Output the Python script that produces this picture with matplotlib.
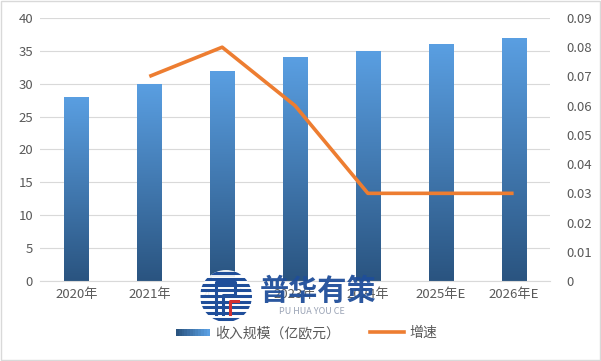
import numpy as np
import matplotlib
matplotlib.use("Agg")
import matplotlib.pyplot as plt
from matplotlib.patches import Rectangle, Circle
from matplotlib.lines import Line2D
from matplotlib.legend_handler import HandlerBase

plt.rcParams['font.family'] = ['Noto Sans CJK SC', 'DejaVu Sans']

years = ["2020年", "2021年", "2022年", "2023年", "2024年", "2025年E", "2026年E"]
revenue = [28, 30, 32, 34, 35, 36, 37]
growth = [None, 0.07, 0.08, 0.06, 0.03, 0.03, 0.03]

BAR_TOP = "#5a9fe2"
BAR_BOT = "#2a5480"
LINE_C = "#ed7d31"
TXT = "#595959"
GRID = "#d9d9d9"
LOGO = "#1f4e9a"

W, H = 601, 361
fig = plt.figure(figsize=(W / 100, H / 100), dpi=100)
ax = fig.add_axes([0.0666, 0.2216, 0.8486, 0.7286])
ax2 = ax.twinx()

x = np.arange(len(years))
bars = ax.bar(x, revenue, width=0.33, color="none", edgecolor="none", zorder=2)

# vertical gradient inside each bar
grad = np.linspace(0, 1, 256).reshape(-1, 1)
cmap = matplotlib.colors.LinearSegmentedColormap.from_list("g", [BAR_BOT, BAR_TOP])
for b in bars:
    x0, w, h = b.get_x(), b.get_width(), b.get_height()
    im = ax.imshow(grad, cmap=cmap, aspect="auto", origin="lower",
                   extent=[x0, x0 + w, 0, h], zorder=2)
    im.set_clip_path(b)

ax.set_xlim(-0.5, len(years) - 0.5)
ax.set_ylim(0, 40)
ax.set_yticks(range(0, 41, 5))
ax.yaxis.grid(True, color=GRID, lw=0.8, zorder=0)
ax.set_axisbelow(True)
ax.set_xticks(x)
ax.set_xticklabels(years)
ax.tick_params(axis="both", length=0, colors=TXT, labelsize=9.5, pad=5)
for s in ["top", "right", "left"]:
    ax.spines[s].set_visible(False)
ax.spines["bottom"].set_color(GRID)

gx = [i for i, g in enumerate(growth) if g is not None]
gy = [g for g in growth if g is not None]
ax2.plot(gx, gy, color=LINE_C, lw=2.6, solid_capstyle="butt", zorder=3)
ax2.set_ylim(0, 0.09)
ax2.set_yticks(np.arange(0, 0.091, 0.01))
ax2.set_yticklabels(["0"] + [f"{v:.2f}" for v in np.arange(0.01, 0.091, 0.01)])
ax2.tick_params(axis="y", length=0, colors=TXT, labelsize=9.5, pad=12)
for s in ["top", "right", "left", "bottom"]:
    ax2.spines[s].set_visible(False)


class GradHandler(HandlerBase):
    def create_artists(self, legend, orig, xd, yd, w, h, fontsize, trans):
        n = 12
        arts = []
        for i in range(n):
            c = cmap(i / (n - 1))
            r = Rectangle((xd + w * i / n, yd + h * 0.15), w / n + 0.3, h * 0.7,
                          facecolor=c, edgecolor="none", transform=trans)
            arts.append(r)
        return arts


handles = [Rectangle((0, 0), 1, 1), Line2D([0], [0], color=LINE_C, lw=2.6)]
fig.legend(handles, ["收入规模（亿欧元）", "增速"],
           handler_map={handles[0]: GradHandler()},
           loc="center", bbox_to_anchor=(0.51, 0.077), ncol=2, frameon=False,
           fontsize=10, labelcolor=TXT, handlelength=2.4, columnspacing=2.2,
           handletextpad=0.4)

# watermark text
fig.text(0.529, 0.194, "普华有策", fontsize=21, fontweight="bold",
         color=LOGO, ha="center", va="center", alpha=0.95, zorder=5)
fig.text(0.519, 0.136, "PU HUA YOU CE", fontsize=6.5, color="#9aa3b5",
         ha="center", va="center", zorder=5)

# watermark logo: striped circle with a white centre
lax = fig.add_axes([200 / W, 1 - 322 / H, 52 / W, 52 / H], zorder=5)
lax.set_xlim(-1, 1)
lax.set_ylim(-1, 1)
lax.set_aspect("equal")
lax.axis("off")
lax.patch.set_alpha(0)
clip = Circle((0, 0), 1.0, transform=lax.transData, facecolor="white",
              edgecolor="none", alpha=0.9)
lax.add_patch(clip)
for yy in np.linspace(-0.88, 0.88, 9):
    ln, = lax.plot([-1, 1], [yy, yy], color=LOGO, lw=2.2, solid_capstyle="butt")
    ln.set_clip_path(clip)
lax.add_patch(Rectangle((-0.55, -0.75), 1.1, 1.5, facecolor="white", edgecolor="none"))
lax.plot([-0.4, -0.4, 0.35, 0.35, -0.1, -0.1], [-0.7, 0.55, 0.55, 0.05, 0.05, -0.7],
         color=LOGO, lw=2.2)
lax.plot([0.15, 0.15, 0.45], [-0.7, -0.2, -0.2], color="#d23030", lw=2.2)

# outer frame
fig.add_artist(Rectangle((0.001, 0.002), 0.997, 0.995, transform=fig.transFigure,
                         fill=False, edgecolor="#d9d9d9", lw=1))

fig.savefig("out.png", dpi=100)
